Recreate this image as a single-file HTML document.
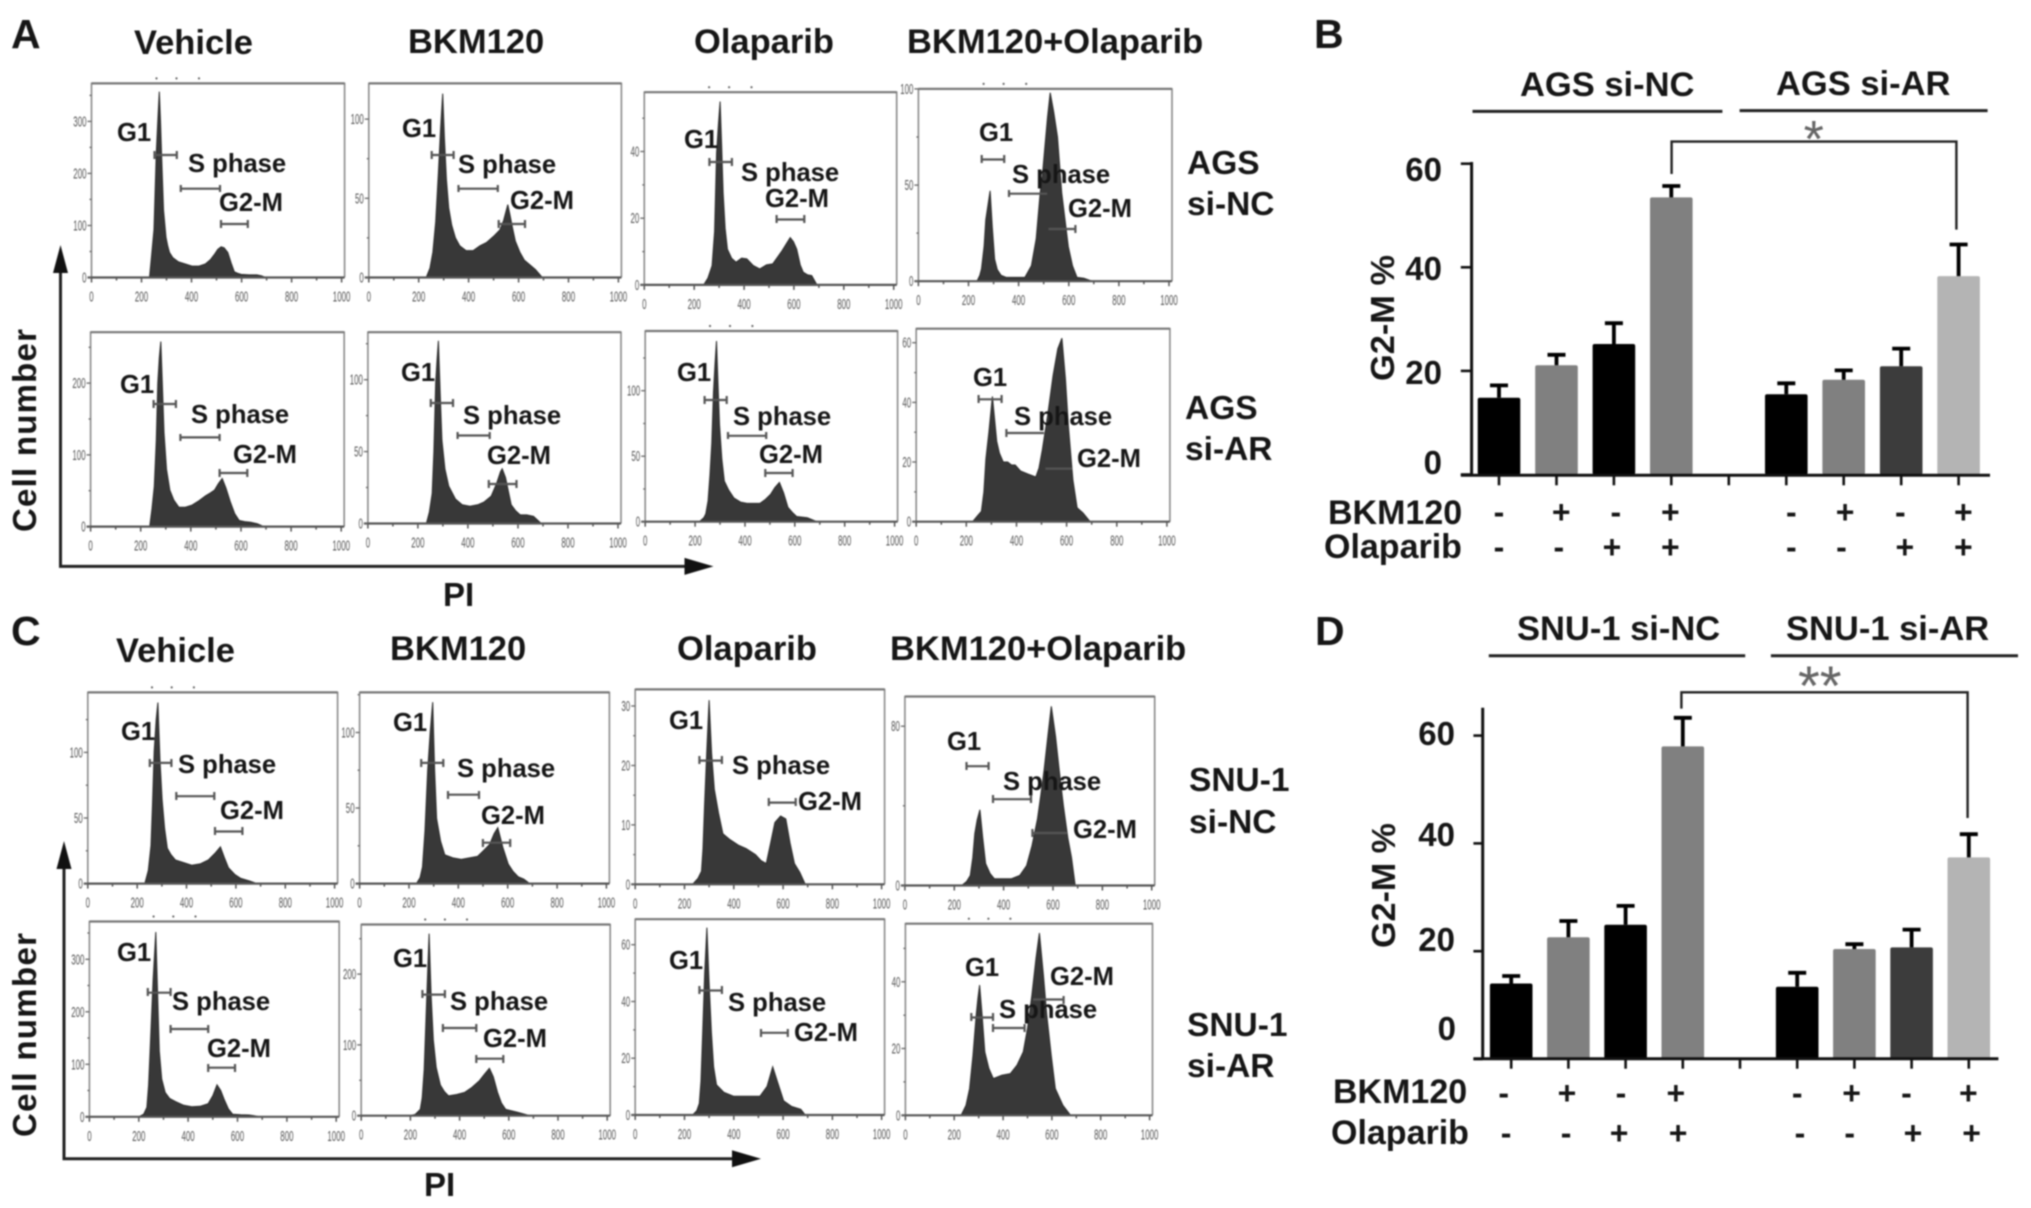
<!DOCTYPE html>
<html lang="en">
<head>
<meta charset="utf-8">
<title>Cell cycle histograms and G2-M percentages</title>
<style>
html,body{margin:0;padding:0;background:#fff;width:2031px;height:1208px;overflow:hidden}
svg{display:block;filter:blur(0.8px)}
text{font-family:"Liberation Sans",sans-serif;font-weight:bold;fill:#161616}
.letter{font-size:41px}
.title{font-size:34.5px}
.lab{font-size:25.6px}
.side{font-size:33.5px}
.axt{font-size:33px}
.num{font-size:33px;text-anchor:end}
.rowlab{font-size:34px}
.gate{fill:none;stroke:#555;stroke-width:2.2}
.rule{stroke:#222;stroke-width:3;fill:none}
.brk{stroke:#222;stroke-width:2.4;fill:none}
.star{font-weight:normal;fill:#666}
</style>
</head>
<body>
<svg id="figure" xmlns="http://www.w3.org/2000/svg" width="2031" height="1208" viewBox="0 0 2031 1208">
<rect width="2031" height="1208" fill="#fff"/>
<g id="plots"></g>
<g id="bars-b"></g>
<g id="bars-d"></g>

<text class="letter" x="11" y="48">A</text>
<text class="letter" x="1314" y="48">B</text>
<text class="letter" x="11" y="645">C</text>
<text class="letter" x="1315" y="645">D</text>

<g>
<text class="title" x="134" y="54">Vehicle</text>
<text class="title" x="408" y="53">BKM120</text>
<text class="title" x="694" y="53">Olaparib</text>
<text class="title" x="907" y="53">BKM120+Olaparib</text>
</g>
<g>
<text class="title" x="116" y="662">Vehicle</text>
<text class="title" x="390" y="660">BKM120</text>
<text class="title" x="677" y="660">Olaparib</text>
<text class="title" x="890" y="660">BKM120+Olaparib</text>
</g>

<g>
<text class="lab" x="117" y="141">G1</text><text class="lab" x="188" y="172">S phase</text><text class="lab" x="219" y="211">G2-M</text>
<path class="gate" d="M154.500 151v8M154.500 155h22.300M176.800 151v8M180.800 185v7M180.800 188.700h39.200M220 185v7M221 220v8M221 224h26.800M247.800 220v8"/>
<text class="lab" x="402" y="137">G1</text><text class="lab" x="458" y="173">S phase</text><text class="lab" x="510" y="209">G2-M</text>
<path class="gate" d="M431.700 151v8M431.700 155h21.900M453.600 151v8M458.500 185v7M458.500 188.700h39.300M497.800 185v7M498.700 220v8M498.700 224h26.300M525 220v8"/>
<text class="lab" x="684" y="148">G1</text><text class="lab" x="741" y="181">S phase</text><text class="lab" x="765" y="207">G2-M</text>
<path class="gate" d="M709.400 158v8M709.400 162h22.500M731.900 158v8M776.600 215v8M776.600 219.500h27.700M804.300 215v8"/>
<text class="lab" x="979" y="141">G1</text><text class="lab" x="1012" y="183">S phase</text><text class="lab" x="1068" y="217">G2-M</text>
<path class="gate" d="M981.700 155v8M981.700 159.500h22.500M1004.200 155v8M1009 190v7M1009 193.700h38.200M1048.500 229h26.900M1075.400 225v8"/>
<text class="lab" x="120" y="393">G1</text><text class="lab" x="191" y="423">S phase</text><text class="lab" x="233" y="463">G2-M</text>
<path class="gate" d="M153.600 400v8M153.600 404h22.300M175.900 400v8M180.400 434v7M180.400 437.400h39.200M219.600 434v7M219.600 469v8M219.600 473h27.700M247.300 469v8"/>
<text class="lab" x="401" y="381">G1</text><text class="lab" x="463" y="424">S phase</text><text class="lab" x="487" y="464">G2-M</text>
<path class="gate" d="M430.800 399v8M430.800 403h22.200M453 399v8M457.600 432v7M457.600 435.500h32.100M489.700 432v7M488.800 480v8M488.800 484h27.700M516.500 480v8"/>
<text class="lab" x="677" y="381">G1</text><text class="lab" x="733" y="425">S phase</text><text class="lab" x="759" y="463">G2-M</text>
<path class="gate" d="M704.600 396v8M704.600 400h22.100M726.700 396v8M728 432v7M728 435.800h38.200M766.200 432v7M765.300 469v8M765.300 473h27.300M792.600 469v8"/>
<text class="lab" x="973" y="386">G1</text><text class="lab" x="1014" y="425">S phase</text><text class="lab" x="1077" y="467">G2-M</text>
<path class="gate" d="M978.600 395v8M978.600 399.300h23M1001.600 395v8M1006.400 429v8M1006.400 433h37.600M1045.400 468.600h26.900"/>
</g>

<g>
<text class="lab" x="121" y="740">G1</text><text class="lab" x="178" y="773">S phase</text><text class="lab" x="220" y="819">G2-M</text>
<path class="gate" d="M149.800 759v8M149.800 762.900h21.600M171.400 759v8M176.300 792v8M176.300 796.200h38M214.300 792v8M215 827v8M215 831.500h27.400M242.400 827v8"/>
<text class="lab" x="393" y="731">G1</text><text class="lab" x="457" y="777">S phase</text><text class="lab" x="481" y="824">G2-M</text>
<path class="gate" d="M421.200 759v8M421.200 762.900h22.100M443.300 759v8M448 791v8M448 794.700h31M479 791v8M482.900 839v8M482.900 842.700h27.300M510.200 839v8"/>
<text class="lab" x="669" y="729">G1</text><text class="lab" x="732" y="774">S phase</text><text class="lab" x="798" y="810">G2-M</text>
<path class="gate" d="M699.400 756v8M699.400 760.600h22.500M721.900 756v8M768.800 798v8M768.800 802.600h26.900M795.700 798v8"/>
<text class="lab" x="947" y="750">G1</text><text class="lab" x="1003" y="790">S phase</text><text class="lab" x="1073" y="838">G2-M</text>
<path class="gate" d="M966.500 762v8M966.500 766.200h22.100M988.600 762v8M993 795v8M993 799.200h38M1031 795v8M1032.400 829v8M1032.400 833h34.600"/>
<text class="lab" x="117" y="961">G1</text><text class="lab" x="172" y="1010">S phase</text><text class="lab" x="207" y="1057">G2-M</text>
<path class="gate" d="M147.800 988v8M147.800 992.700h22.800M170.600 988v8M170.600 1025v8M170.600 1029h37.600M208.200 1025v8M208.200 1064v8M208.200 1067.700h26.800M235 1064v8"/>
<text class="lab" x="393" y="967">G1</text><text class="lab" x="450" y="1010">S phase</text><text class="lab" x="483" y="1047">G2-M</text>
<path class="gate" d="M422.400 990v8M422.400 994.600h22.500M444.900 990v8M442.900 1024v8M442.900 1028h33.400M476.300 1024v8M476.300 1055v8M476.300 1058.700h27M503.300 1055v8"/>
<text class="lab" x="669" y="969">G1</text><text class="lab" x="728" y="1011">S phase</text><text class="lab" x="794" y="1041">G2-M</text>
<path class="gate" d="M699.400 986v8M699.400 990.500h22.500M721.900 986v8M761 1029v8M761 1032.800h26.800M787.800 1029v8"/>
<text class="lab" x="965" y="976">G1</text><text class="lab" x="999" y="1018">S phase</text><text class="lab" x="1050" y="985">G2-M</text>
<path class="gate" d="M971.300 1013v8M971.300 1017.500h21.700M993 1013v8M993 1024v8M993 1028h31.600M1024.600 1024v8M1033 999.500h30.600M1063.600 996v8"/>
</g>

<g>
<text class="side" x="1187" y="174">AGS</text>
<text class="side" x="1187" y="215">si-NC</text>
<text class="side" x="1185" y="419">AGS</text>
<text class="side" x="1185" y="460">si-AR</text>
<text class="side" x="1189" y="791">SNU-1</text>
<text class="side" x="1189" y="833">si-NC</text>
<text class="side" x="1187" y="1036">SNU-1</text>
<text class="side" x="1187" y="1077">si-AR</text>
</g>

<g>
<path d="M60.500 268V566.400H688" fill="none" stroke="#222" stroke-width="3"/>
<path d="M60.500 245l-7.500 28h15zM713.500 566.400l-29-8.500v17z" fill="#111"/>
<text class="axt" transform="translate(36,532) rotate(-90)" textLength="203" lengthAdjust="spacing">Cell number</text>
<text class="axt" x="443" y="606">PI</text>
</g>
<g>
<path d="M64 864V1158.800H737" fill="none" stroke="#222" stroke-width="3"/>
<path d="M64 841l-7.500 28h15zM761 1158.800l-29-8.500v17z" fill="#111"/>
<text class="axt" transform="translate(36,1137) rotate(-90)" textLength="204" lengthAdjust="spacing">Cell number</text>
<text class="axt" x="424" y="1196">PI</text>
</g>

<g>
<text class="title" x="1520" y="96">AGS si-NC</text>
<text class="title" x="1776" y="95">AGS si-AR</text>
<path class="rule" d="M1472.500 111.400H1722.400"/>
<path class="rule" d="M1739.600 110.600H1987.600"/>
<path class="brk" d="M1671.600 174V141.600H1956.400V229.600"/>
<text class="star" x="1813.700" y="157" font-size="52" text-anchor="middle">*</text>
<text class="num" x="1442" y="181">60</text>
<text class="num" x="1442" y="280">40</text>
<text class="num" x="1442" y="384">20</text>
<text class="num" x="1442" y="474">0</text>
<text class="axt" transform="translate(1394,381) rotate(-90)" textLength="126" lengthAdjust="spacingAndGlyphs">G2-M %</text>
<text class="rowlab" x="1328" y="524">BKM120</text>
<text class="rowlab" x="1324" y="558">Olaparib</text>
</g>

<g>
<text class="title" x="1517" y="640">SNU-1 si-NC</text>
<text class="title" x="1786" y="640">SNU-1 si-AR</text>
<path class="rule" d="M1488.800 655.800H1745.200"/>
<path class="rule" d="M1770.900 655.800H2018"/>
<path class="brk" d="M1681.400 708.600V692.300H1967.600V818"/>
<text class="star" x="1819.800" y="705" font-size="56" text-anchor="middle">**</text>
<text class="num" x="1455" y="745">60</text>
<text class="num" x="1455" y="846">40</text>
<text class="num" x="1455" y="951">20</text>
<text class="num" x="1456" y="1040">0</text>
<text class="axt" transform="translate(1395,948) rotate(-90)" textLength="125" lengthAdjust="spacingAndGlyphs">G2-M %</text>
<text class="rowlab" x="1333" y="1103">BKM120</text>
<text class="rowlab" x="1331" y="1144">Olaparib</text>
</g>
</svg>

<script>
// ---- Flow histogram data: PI channel and cell count for each panel ----
const xTickValues = [0, 200, 400, 600, 800, 1000];

const piA11 = [232,240,250,259,265,271,276,280,288,298,305,312,325,348,375,402,430,455,475,491,505,518,530,545,558,571,585,598,630,661,680,696];
const countA11 = [0,40,92,240,300,357,300,240,130,77,60,48,38,30,26,22,22,26,34,44,54,59,57,48,28,11,8,6,5,5,3,0];
const ticksA11 = [0,100,200,300];

const piA12 = [230,245,257,268,279,288,296,303,311,320,332,347,364,390,418,445,471,500,525,540,557,565,575,587,605,623,645,668,695];
const countA12 = [0,6,16,35,66,95,116,88,62,44,33,25,20,17,17,20,22,26,30,36,46,40,32,23,16,11,8,5,0];
const ticksA12 = [0,50,100];

const piA13 = [238,255,272,282,290,297,304,310,316,324,333,350,368,390,411,437,463,490,515,550,575,585,598,611,625,637,655,671,692];
const countA13 = [0,2,5.8,16,39.6,48,55,42,27.7,17,10.7,8,6.8,8,7.8,5.8,4.8,6,6.3,10,13,14.2,13,10.7,6,3.8,3,2.8,0];
const ticksA13 = [0,20,40];

const piA14 = [234,245,252,262,269,278,286,295,304,315,330,350,373,400,425,451,470,486,495,503,515,526,540,555,572,585,598,615,633,660,694];
const countA14 = [0,3,6.4,18,32,40,47,28,11.5,6,3,2,2,2,2,8,22,46,55,67,85,98,88,75,46,32,18,8,2,1.5,0];
const ticksA14 = [0,50,100];

const piA21 = [236,245,254,262,268,274,280,286,293,303,316,332,352,378,405,432,459,478,495,510,525,540,557,575,593,615,638,665,691];
const countA21 = [0,25,56,120,200,235,258,200,131,80,51,37,27,27,30,36,43,47,51,60,67,54,35,18,8.5,7,6,4,0];
const ticksA21 = [0,100,200];

const piA22 = [234,246,257,264,271,276,282,289,296,308,323,350,377,408,439,465,493,515,530,537,550,573,590,609,635,662,693];
const countA22 = [0,8,21,50,98,112,127,90,58,38,26,17,13,12,13,15,19,28,36,38,32,13,9,6,6,5,0];
const ticksA22 = [0,50,100];

const piA23 = [217,235,243,252,260,267,274,280,286,292,298,307,317,335,356,382,408,434,460,482,503,520,538,555,572,590,607,650,689];
const countA23 = [0,3,6,16,36,60,99,120,138,105,74,48,31,24,18,15,14,14,14,17,21,26,30,22,11,7,4,3,0];
const ticksA23 = [0,50,100];

const piA24 = [225,245,260,270,278,290,304,312,321,332,347,365,380,395,416,445,477,490,503,525,546,565,581,595,607,625,642,665,694];
const countA24 = [0,2,3.5,10,21,30,42,35,27,23,20,20,19,19,17,16,15,18,24,36,49,58,61.5,48,32,14,4.7,3,0];
const ticksA24 = [0,20,40,60];

const piC11 = [231,245,256,262,269,277,284,292,301,311,322,337,355,388,421,455,488,515,537,553,570,595,620,655,686];
const countC11 = [0,10,29,60,101,125,138,95,64,42,27,22,18,16,14,15,18,23,28,20,12,7,4,2,0];
const ticksC11 = [0,50,100];

const piC12 = [230,245,255,265,276,286,296,304,312,328,345,378,412,445,478,503,527,545,560,580,602,622,643,665,689];
const countC12 = [0,4,11,35,75,100,120,75,43,28,19,17,16,17,18,22,26,33,37,24,13,8,4.5,3,0];
const ticksC12 = [0,50,100];

const piC13 = [233,255,269,275,281,290,300,310,321,338,356,385,418,450,488,510,532,550,567,590,611,628,646,668,690];
const countC13 = [0,1,2.2,6,13,22,31,22,16,12,8.5,7.5,6.6,6,5,4,3.5,7,10.4,11.5,11,7,3.5,2,0];
const ticksC13 = [0,10,20,30];

const piC14 = [230,250,265,275,283,293,304,315,327,345,362,395,432,465,493,515,537,550,564,580,593,610,625,642,660,675,690];
const countC14 = [0,2,5,14,26,33,38,24,11,6,3.4,3.4,3.4,5,10,20,33.5,45,58,76,90,75,58,40,24,14,0];
const ticksC14 = [0,80];

const piC21 = [200,220,233,240,246,258,269,276,283,293,307,325,349,382,415,448,481,500,517,532,547,563,580,613,646,668,688];
const countC21 = [0,5,18,60,125,260,352,240,125,72,46,35,29,22,19,20,25,40,61,50,32,15,5,4,3.5,2,0];
const ticksC21 = [0,100,200,300];

const piC22 = [198,220,240,248,256,266,276,284,293,305,322,338,355,388,421,450,479,500,521,537,554,570,587,635,686];
const countC22 = [0,2,9,25,65,160,257,170,107,68,43,34,28,30,33,40,49,58,67,55,33,18,9,5,0];
const ticksC22 = [0,100,200];

const piC23 = [233,250,260,267,274,282,291,299,309,318,330,360,400,453,506,535,558,580,602,635,672,690];
const countC23 = [0,1.5,4,12,29,50,66,48,29,17,10.6,8,6.6,6.6,6.6,10,17,11,5,3,2,0];
const ticksC23 = [0,20,40,60];

const piC24 = [228,248,263,277,290,297,304,314,325,342,360,395,430,457,483,500,518,535,549,565,579,597,614,645,676];
const countC24 = [0,3,8,18,30,35,39,30,19,14,11,12,12.500,15,19,26,36,47,54.6,42,30,18,8,3,0];
const ticksC24 = [0,20,40];

// ---- Bar chart data ----
const barCategories = ['none','BKM120','Olaparib','BKM120+Olaparib','none-si','BKM120-si','Olaparib-si','BKM120+Olaparib-si'];
const bkmSigns = ['-','+','-','+','-','+','-','+'];
const olaSigns = ['-','-','+','+','-','-','+','+'];
const barTicks = [0,20,40,60];
const valuesB = [14.8,21.1,25.2,53.5,15.5,18.3,20.9,38.3];
const errorsB = [2.4,2.0,4.0,2.2,2.1,1.8,3.4,6.1];
const valuesD = [14,22.6,24.9,58,13.4,20.4,20.7,37.4];
const errorsD = [1.4,3.0,3.5,5.3,2.6,0.9,3.3,4.3];

// ---- Layout ----
const X_MAX = 1012;
const panels = [
  {id:'a11',pi:piA11,counts:countA11,ticks:ticksA11,yMax:373,left:91.5,right:344.6,top:83.4,bottom:277.5,dots:true},
  {id:'a12',pi:piA12,counts:countA12,ticks:ticksA12,yMax:122.5,left:368.8,right:621.4,top:83.4,bottom:277.5},
  {id:'a13',pi:piA13,counts:countA13,ticks:ticksA13,yMax:57.8,left:644.3,right:896.7,top:92.2,bottom:284.9,dots:true},
  {id:'a14',pi:piA14,counts:countA14,ticks:ticksA14,yMax:100,left:918.4,right:1172,top:88.9,bottom:281.2,dots:true},
  {id:'a21',pi:piA21,counts:countA21,ticks:ticksA21,yMax:271,left:90.6,right:344.2,top:332.2,bottom:526.6},
  {id:'a22',pi:piA22,counts:countA22,ticks:ticksA22,yMax:133,left:367.9,right:621,top:332.2,bottom:523.5},
  {id:'a23',pi:piA23,counts:countA23,ticks:ticksA23,yMax:145.6,left:645.2,right:897.6,top:331,bottom:521.7,dots:true},
  {id:'a24',pi:piA24,counts:countA24,ticks:ticksA24,yMax:64.7,left:916.2,right:1169.9,top:328.7,bottom:521.7},
  {id:'c11',pi:piC11,counts:countC11,ticks:ticksC11,yMax:145.7,left:87.8,right:337.6,top:692.4,bottom:883.6,dots:true},
  {id:'c12',pi:piC12,counts:countC12,ticks:ticksC12,yMax:126.5,left:359.6,right:609.4,top:692.4,bottom:883.6},
  {id:'c13',pi:piC13,counts:countC13,ticks:ticksC13,yMax:32.8,left:635.2,right:884.6,top:689.4,bottom:884.3},
  {id:'c14',pi:piC14,counts:countC14,ticks:ticksC14,yMax:94.9,left:904.9,right:1154.7,top:696.5,bottom:885.5},
  {id:'c21',pi:piC21,counts:countC21,ticks:ticksC21,yMax:372,left:89.4,right:339.2,top:921.5,bottom:1116.8,dots:true},
  {id:'c22',pi:piC22,counts:countC22,ticks:ticksC22,yMax:270,left:361.2,right:610.2,top:924.5,bottom:1115.7,dots:true},
  {id:'c23',pi:piC23,counts:countC23,ticks:ticksC23,yMax:69,left:635.2,right:884.6,top:919.2,bottom:1115},
  {id:'c24',pi:piC24,counts:countC24,ticks:ticksC24,yMax:57.4,left:905.4,right:1152.5,top:923.7,bottom:1115.3,dots:true}
];
const barColorsB = ['#000','#808080','#000','#808080','#000','#808080','#3c3c3c','#b4b4b4'];

const NS = 'http://www.w3.org/2000/svg';
function mk(tag, attrs, parent) {
  const el = document.createElementNS(NS, tag);
  for (const k in attrs) el.setAttribute(k, attrs[k]);
  parent.appendChild(el);
  return el;
}

function drawPanel(p, root) {
  const xOf = v => p.left + (v / X_MAX) * (p.right - p.left);
  const yOf = v => p.bottom - (v / p.yMax) * (p.bottom - p.top);

  const g = mk('g', {}, root);
  
  

  let d = 'M' + xOf(p.pi[0]).toFixed(1) + ' ' + p.bottom;
  p.pi.forEach((ch, i) => { d += 'L' + xOf(ch).toFixed(1) + ' ' + yOf(p.counts[i]).toFixed(1); });
  d += 'L' + xOf(p.pi[p.pi.length - 1]).toFixed(1) + ' ' + p.bottom + 'Z';
  const area = mk('path', {d: d, fill: '#383838', stroke: '#2a2a2a', 'stroke-width': 1}, g);
  
  

  const box = mk('path', {d: 'M' + p.left + ' ' + p.bottom + 'V' + p.top + 'H' + p.right + 'V' + p.bottom, fill: 'none', stroke: '#8a8a8a', 'stroke-width': 1.6}, g);
  
  

  const topLine = mk('path', {d: 'M' + p.left + ' ' + p.top + 'H' + p.right, stroke: '#777', 'stroke-width': 2.2}, g);
  
  

  const xAxis = mk('path', {d: 'M' + (p.left - 4) + ' ' + p.bottom + 'H' + p.right, stroke: '#555', 'stroke-width': 2.2}, g);
  
  

  for (let v = 0; v <= 1000; v += 100) {
    const major = v % 200 === 0;
    const tick = mk('path', {d: 'M' + xOf(v).toFixed(1) + ' ' + p.bottom + 'v' + (major ? 5 : 3), stroke: '#555', 'stroke-width': 1.5}, g);
    
    
  }
  xTickValues.forEach(v => {
    const s = String(v);
    const t = mk('text', {x: xOf(v).toFixed(1), y: p.bottom + 24, 'text-anchor': 'middle', textLength: s.length * 4.4, lengthAdjust: 'spacingAndGlyphs', 'font-size': 14.5, style: 'fill:#555;font-weight:normal'}, g);
    
    
    t.textContent = s;
  });
  const step = p.ticks[1] - p.ticks[0];
  for (let v = 0; v <= p.yMax; v += step / 2) {
    const major = p.ticks.indexOf(v) >= 0;
    const tick = mk('path', {d: 'M' + p.left + ' ' + yOf(v).toFixed(1) + 'h-' + (major ? 4 : 2), stroke: '#666', 'stroke-width': 1.3}, g);
    
    
  }
  p.ticks.forEach(v => {
    const s = String(v);
    const t = mk('text', {x: p.left - 5, y: (yOf(v) + 5).toFixed(1), 'text-anchor': 'end', textLength: s.length * 4.4, lengthAdjust: 'spacingAndGlyphs', 'font-size': 14.5, style: 'fill:#555;font-weight:normal'}, g);
    
    
    t.textContent = s;
  });
  if (p.dots) {
    [260, 340, 430].forEach(ch => {
      const dot = mk('circle', {cx: xOf(ch).toFixed(1), cy: p.top - 5, r: 1.1, fill: '#666'}, g);
      
      
    });
  }
}

function drawBars(root, cfg) {
  const yOf = v => cfg.y0 - v * cfg.k;
  const slotX = s => cfg.x0 + s * cfg.step;
  const barX = i => slotX(i < 4 ? i : i + 1);

  barCategories.forEach((cat, i) => {
    const x = barX(i);
    const rect = mk('rect', {x: (x - 21.300).toFixed(1), y: yOf(cfg.values[i]).toFixed(1), width: 42.600, height: (cfg.values[i] * cfg.k).toFixed(1), rx: 2, fill: barColorsB[i]}, root);
    
    
    const top = yOf(cfg.values[i] + cfg.errors[i]);
    const err = mk('path', {d: 'M' + x.toFixed(1) + ' ' + yOf(cfg.values[i]).toFixed(1) + 'V' + top.toFixed(1) + 'M' + (x - 9).toFixed(1) + ' ' + top.toFixed(1) + 'H' + (x + 9).toFixed(1), stroke: '#000', 'stroke-width': 3.800, fill: 'none'}, root);
    
    
    const s1 = mk('text', {x: (x + cfg.nudge1[i]).toFixed(1), y: cfg.row1, 'text-anchor': 'middle', 'font-size': 32}, root);
    
    
    s1.textContent = bkmSigns[i];
    const s2 = mk('text', {x: (x + cfg.nudge2[i]).toFixed(1), y: cfg.row2, 'text-anchor': 'middle', 'font-size': 32}, root);
    
    
    s2.textContent = olaSigns[i];
  });

  const axes = mk('path', {d: 'M' + cfg.axisX + ' ' + cfg.axisTop + 'V' + cfg.axisY + 'M' + cfg.xStart + ' ' + cfg.axisY + 'H' + cfg.xEnd, stroke: '#111', 'stroke-width': 3, fill: 'none'}, root);
  
  

  barTicks.forEach(v => {
    const t = mk('path', {d: 'M' + cfg.xStart + ' ' + yOf(v).toFixed(1) + 'H' + cfg.axisX, stroke: '#111', 'stroke-width': 2.600}, root);
    
    
  });
  for (let s = 0; s < 9; s++) {
    const t = mk('path', {d: 'M' + slotX(s).toFixed(1) + ' ' + cfg.axisY + 'v10', stroke: '#111', 'stroke-width': 2.600}, root);
    
    
  }
}

const plotsRoot = document.getElementById('plots');
panels.forEach(p => drawPanel(p, plotsRoot));

drawBars(document.getElementById('bars-b'), {values: valuesB, errors: errorsB, y0: 474.5, k: 5.18, x0: 1499, step: 57.45, axisX: 1471.6, axisTop: 162, axisY: 475.3, xStart: 1460.8, xEnd: 1990, row1: 523, row2: 558,
  nudge1: [0,4.7,1.9,-0.9,5.1,1.4,-0.9,4.7], nudge2: [0,2.3,-1.9,-0.9,5.1,-2.3,3.7,4.7]});
drawBars(document.getElementById('bars-d'), {values: valuesD, errors: errorsD, y0: 1059, k: 5.39, x0: 1511.2, step: 57.2, axisX: 1482.7, axisTop: 707.8, axisY: 1058.7, xStart: 1473.4, xEnd: 1998.4, row1: 1104, row2: 1144,
  nudge1: [-7.5,-1.4,-4.7,-7,0,-2.8,-5.1,-0.5], nudge2: [-5.1,-2.3,-6.5,-4.7,2.8,-4.7,1.4,2.8]});
</script>
</body>
</html>
